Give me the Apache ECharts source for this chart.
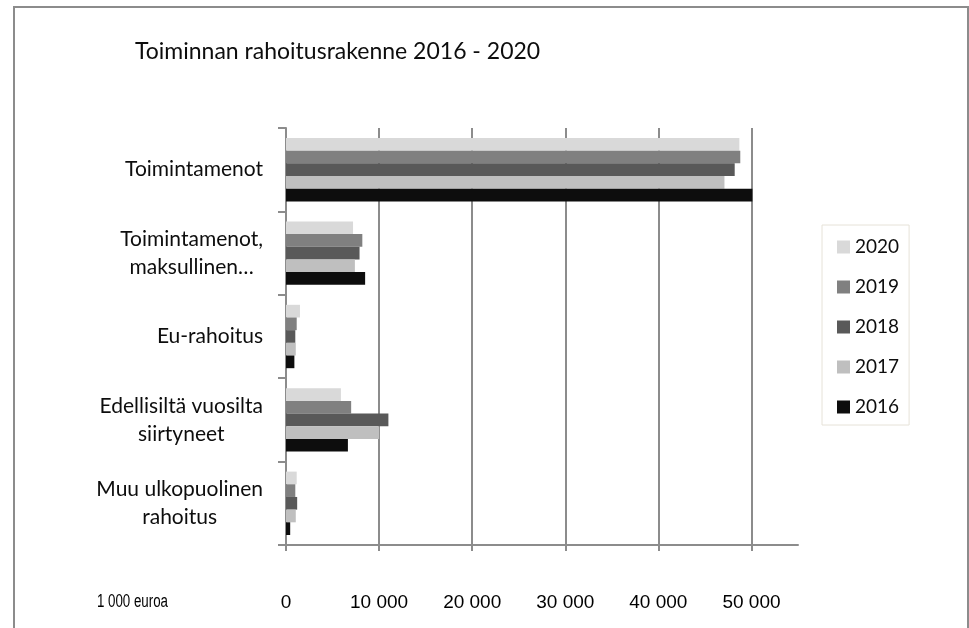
<!DOCTYPE html>
<html>
<head>
<meta charset="utf-8">
<script src="https://cdn.jsdelivr.net/npm/echarts@6/dist/echarts.min.js"></script>
<style>
  html, body { margin: 0; padding: 0; background: #fff; }
  #main { width: 969px; height: 628px; }
</style>
</head>
<body>
<div id="main"></div>
<script>
// categories, top to bottom
var categories = [
  'Toimintamenot',
  'Toimintamenot,\nmaksullinen…',
  'Eu-rahoitus',
  'Edellisiltä vuosilta\nsiirtyneet',
  'Muu ulkopuolinen\nrahoitus'
];
var years = ['2020', '2019', '2018', '2017', '2016'];
var yearColors = ['#d9d9d9', '#808080', '#595959', '#bfbfbf', '#0d0d0d'];

// 1 000 euroa
var v2020 = [48700, 7200, 1500, 5900, 1150];
var v2019 = [48800, 8200, 1150, 7000, 1000];
var v2018 = [48200, 7900, 1000, 11000, 1200];
var v2017 = [47100, 7400, 1050, 10000, 1050];
var v2016 = [50100, 8500, 900, 6650, 450];
var values = [v2020, v2019, v2018, v2017, v2016];

var xTicks = [0, 10000, 20000, 30000, 40000, 50000];

var chart = echarts.init(document.getElementById('main'));

var gridLeft = 286, gridTop = 128, gridBottom = 83, gridRight = 171;
var fullMax = 55000;
var plotW = 969 - gridLeft - gridRight;
var tickMax = xTicks[xTicks.length - 1];
var gridRight2 = 969 - gridLeft - plotW * tickMax / fullMax;

var axisGray = '#8c8c8c';
var labelFont = 'Lato, "Open Sans", sans-serif';
var numFont = '"Liberation Sans", Arial, sans-serif';

function fmtNum(v) {
  return String(v).replace(/\B(?=(\d{3})+(?!\d))/g, ' ');
}

var series = years.map(function (y, i) {
  return {
    name: y,
    type: 'bar',
    xAxisIndex: 0,
    yAxisIndex: 0,
    data: values[i],
    barGap: '0%',
    barCategoryGap: '24%',
    itemStyle: { color: yearColors[i] },
    emphasis: { disabled: true }
  };
});

chart.setOption({
  animation: false,
  backgroundColor: '#fff',
  title: {
    text: 'Toiminnan rahoitusrakenne 2016 - 2020',
    left: 135,
    top: 40,
    padding: 0,
    textStyle: { fontFamily: labelFont, fontSize: 23, fontWeight: 'normal', color: '#0d0d0d' }
  },
  legend: {
    data: years,
    orient: 'vertical',
    left: 822,
    top: 225,
    padding: [12, 10, 8, 15],
    itemWidth: 13,
    itemHeight: 13,
    itemGap: 20,
    itemTextGap: 7,
    icon: 'rect',
    borderColor: '#e6e2d8',
    borderWidth: 1,
    selectedMode: false,
    textStyle: { fontFamily: labelFont, fontSize: 19, color: '#0d0d0d', lineHeight: 20 }
  },
  grid: [
    { left: gridLeft, right: gridRight, top: gridTop, bottom: gridBottom },
    { left: gridLeft, right: gridRight2, top: gridTop, bottom: gridBottom }
  ],
  xAxis: [
    {
      gridIndex: 0,
      type: 'value',
      min: 0,
      max: fullMax,
      axisLine: { show: true, lineStyle: { color: axisGray, width: 2 } },
      axisTick: { show: false },
      axisLabel: { show: false },
      splitLine: { show: false }
    },
    {
      gridIndex: 1,
      type: 'value',
      min: 0,
      max: tickMax,
      interval: 10000,
      axisLine: { show: false },
      axisTick: { show: true, length: 6, lineStyle: { color: axisGray, width: 2 } },
      axisLabel: {
        margin: 48,
        fontFamily: numFont,
        fontSize: 19,
        color: '#000',
        formatter: fmtNum
      },
      splitLine: { show: true, lineStyle: { color: axisGray, width: 2 } }
    }
  ],
  yAxis: [
    {
      gridIndex: 0,
      type: 'category',
      inverse: true,
      data: categories,
      axisLine: { show: true, lineStyle: { color: axisGray, width: 2 } },
      axisTick: { show: true, length: 8, lineStyle: { color: axisGray, width: 2 } },
      axisLabel: {
        margin: 23,
        align: 'right',
        fontFamily: labelFont,
        fontSize: 21,
        color: '#0d0d0d',
        lineHeight: 28,
        formatter: function (v) {
          return v.split('\n').map(function (s) { return '{c|' + s + '}'; }).join('\n');
        },
        rich: { c: { align: 'center', fontFamily: labelFont, fontSize: 21, lineHeight: 28, color: '#0d0d0d' } }
      }
    },
    {
      gridIndex: 1,
      type: 'category',
      inverse: true,
      data: categories,
      show: false
    }
  ],
  graphic: [
    {
      type: 'rect',
      shape: { x: 14, y: 7, width: 954, height: 640 },
      style: { fill: 'none', stroke: '#8c8c8c', lineWidth: 2 },
      silent: true
    },
    {
      type: 'text',
      x: 168,
      y: 602,
      scaleX: 0.74,
      style: {
        text: '1 000 euroa',
        font: '18px ' + numFont,
        fill: '#000',
        align: 'right',
        verticalAlign: 'middle'
      }
    }
  ],
  series: series
});
</script>
</body>
</html>
